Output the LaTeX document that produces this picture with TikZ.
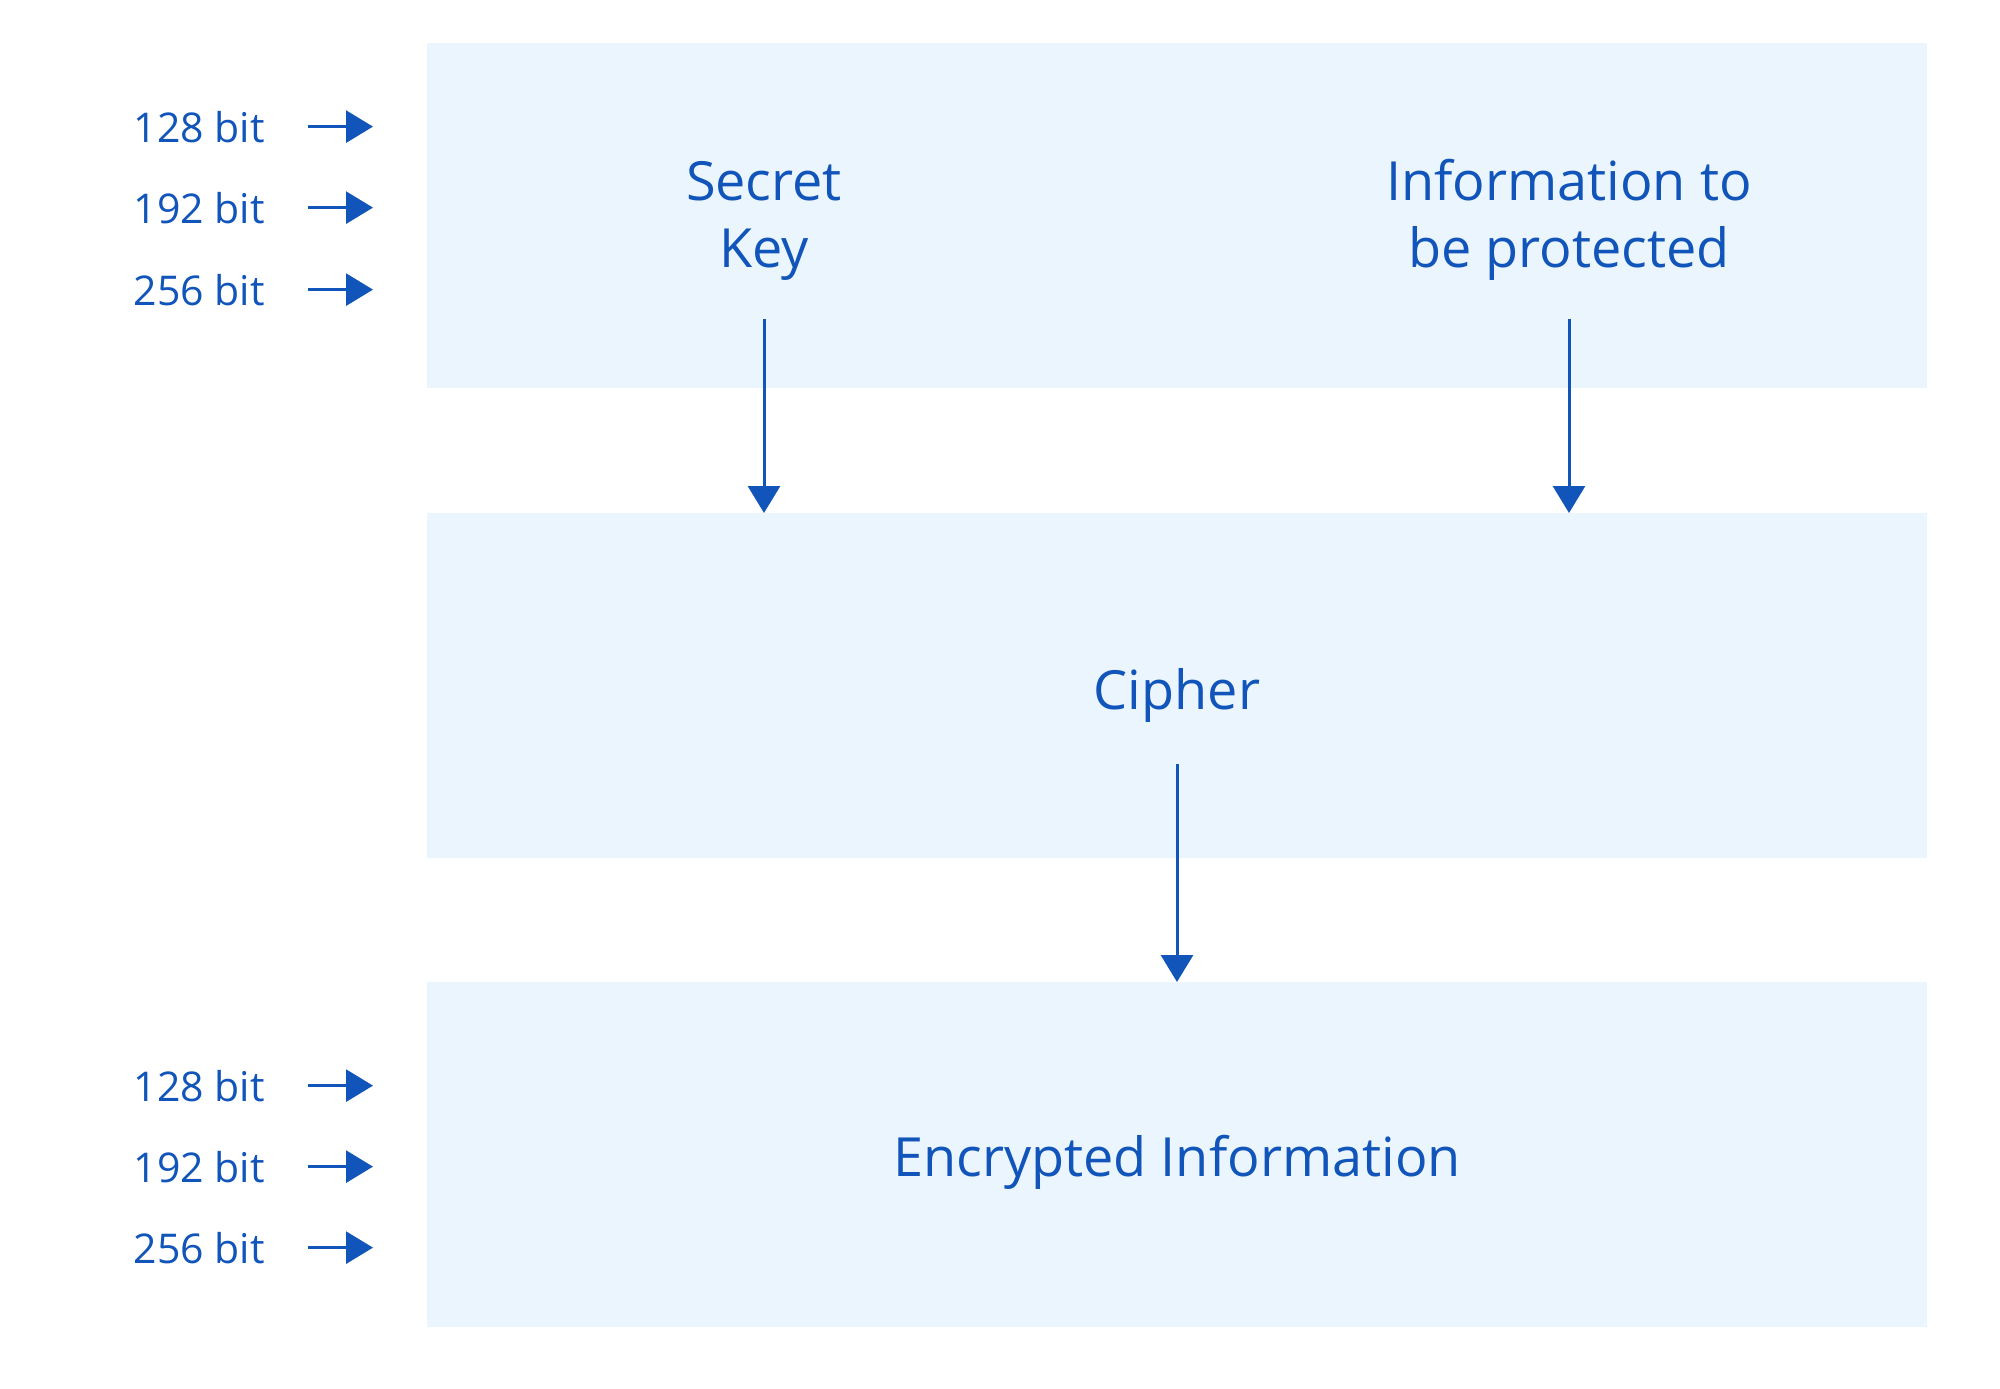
\documentclass[tikz,border=0pt]{standalone}
\usepackage{fontspec}
\setmainfont{Open Sans}
\usetikzlibrary{arrows.meta}
\definecolor{txtblue}{HTML}{1155BB}
\definecolor{boxfill}{HTML}{EBF5FE}
\begin{document}
\begin{tikzpicture}[x=1pt,y=-1pt,
  panel/.style={fill=boxfill, draw=none, inner sep=0pt, minimum width=1500pt, minimum height=345pt, anchor=north west},
  big/.style={text=txtblue, font=\fontsize{54}{67}\selectfont, align=center, inner sep=0pt},
  small/.style={text=txtblue, font=\fontsize{41}{50}\selectfont, inner sep=0pt, anchor=base east},
  conn/.style={draw=txtblue, line width=3pt, -{Triangle[length=27pt,width=32pt]}}]
\fill[white] (0,0) rectangle (2000,1389);
\useasboundingbox (0,0) rectangle (2000,1389);
% panels
\node[panel] (top) at (427,43) {};
\node[panel] (mid) at (427,513) {};
\node[panel] (bot) at (427,982) {};
% texts
\node[big, anchor=base] (key) at (764,267) {Secret\\Key};
\node[big, anchor=base] (info) at (1569,267) {Information to\\be protected};
\node[big, anchor=base] (cipher) at (1177,709) {Cipher};
\node[big, anchor=base] (enc) at (1177,1176) {Encrypted Information};
% side labels
\node[small] (t1) at (265,142) {128 bit};
\node[small] (t2) at (265,223) {192 bit};
\node[small] (t3) at (265,305) {256 bit};
\node[small] (b1) at (265,1101) {128 bit};
\node[small] (b2) at (265,1182) {192 bit};
\node[small] (b3) at (265,1263) {256 bit};
% connectors
\coordinate (k0) at (764,319);
\coordinate (i0) at (1569,319);
\coordinate (c0) at (1177,764);
\draw[conn] (k0) -- (k0 |- mid.north);
\draw[conn] (i0) -- (i0 |- mid.north);
\draw[conn] (c0) -- (c0 |- bot.north);
\foreach \n in {t1,t2,t3,b1,b2,b3}{
  \draw[conn] (\n.east) ++(43,0) -- ++(65,0);
}
\end{tikzpicture}
\end{document}
